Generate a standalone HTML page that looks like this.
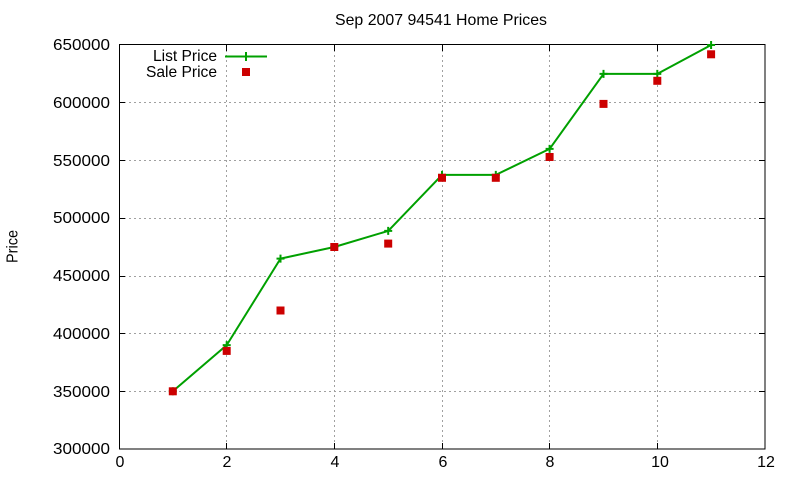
<!DOCTYPE html>
<html>
<head>
<meta charset="utf-8">
<style>
html,body{margin:0;padding:0;background:#fff;}
svg{display:block;}
text{font-family:"Liberation Sans",Arial,sans-serif;fill:#000;}
</style>
</head>
<body>
<svg width="800" height="480" viewBox="0 0 800 480" xmlns="http://www.w3.org/2000/svg">
<rect width="800" height="480" fill="#fff"/>
<!-- grid -->
<g stroke="#a0a0a0" stroke-width="1" stroke-dasharray="2,3" fill="none">
  <line x1="119" y1="391.5" x2="765" y2="391.5"/>
  <line x1="119" y1="333.5" x2="765" y2="333.5"/>
  <line x1="119" y1="276.5" x2="765" y2="276.5"/>
  <line x1="119" y1="218.5" x2="765" y2="218.5"/>
  <line x1="119" y1="160.5" x2="765" y2="160.5"/>
  <line x1="119" y1="102.5" x2="765" y2="102.5"/>
  <line x1="226.5" y1="45" x2="226.5" y2="449"/>
  <line x1="334.5" y1="45" x2="334.5" y2="449"/>
  <line x1="442.5" y1="45" x2="442.5" y2="449"/>
  <line x1="549.5" y1="45" x2="549.5" y2="449"/>
  <line x1="657.5" y1="45" x2="657.5" y2="449"/>
</g>
<!-- ticks -->
<g stroke="#000" stroke-width="1">
  <line x1="119" y1="391.5" x2="125" y2="391.5"/><line x1="765" y1="391.5" x2="759" y2="391.5"/>
  <line x1="119" y1="333.5" x2="125" y2="333.5"/><line x1="765" y1="333.5" x2="759" y2="333.5"/>
  <line x1="119" y1="276.5" x2="125" y2="276.5"/><line x1="765" y1="276.5" x2="759" y2="276.5"/>
  <line x1="119" y1="218.5" x2="125" y2="218.5"/><line x1="765" y1="218.5" x2="759" y2="218.5"/>
  <line x1="119" y1="160.5" x2="125" y2="160.5"/><line x1="765" y1="160.5" x2="759" y2="160.5"/>
  <line x1="119" y1="102.5" x2="125" y2="102.5"/><line x1="765" y1="102.5" x2="759" y2="102.5"/>
  <line x1="226.5" y1="449" x2="226.5" y2="443"/><line x1="226.5" y1="45" x2="226.5" y2="51"/>
  <line x1="334.5" y1="449" x2="334.5" y2="443"/><line x1="334.5" y1="45" x2="334.5" y2="51"/>
  <line x1="442.5" y1="449" x2="442.5" y2="443"/><line x1="442.5" y1="45" x2="442.5" y2="51"/>
  <line x1="549.5" y1="449" x2="549.5" y2="443"/><line x1="549.5" y1="45" x2="549.5" y2="51"/>
  <line x1="657.5" y1="449" x2="657.5" y2="443"/><line x1="657.5" y1="45" x2="657.5" y2="51"/>
</g>
<!-- border -->
<rect x="119.5" y="44.5" width="645.5" height="404.5" fill="none" stroke="#000" stroke-width="1"/>
<!-- y labels -->
<g font-size="16" text-anchor="end">
  <text x="110" y="454" textLength="57" lengthAdjust="spacingAndGlyphs">300000</text>
  <text x="110" y="397" textLength="57" lengthAdjust="spacingAndGlyphs">350000</text>
  <text x="110" y="339" textLength="57" lengthAdjust="spacingAndGlyphs">400000</text>
  <text x="110" y="281" textLength="57" lengthAdjust="spacingAndGlyphs">450000</text>
  <text x="110" y="223" textLength="57" lengthAdjust="spacingAndGlyphs">500000</text>
  <text x="110" y="166" textLength="57" lengthAdjust="spacingAndGlyphs">550000</text>
  <text x="110" y="108" textLength="57" lengthAdjust="spacingAndGlyphs">600000</text>
  <text x="110" y="50" textLength="57" lengthAdjust="spacingAndGlyphs">650000</text>
</g>
<!-- x labels -->
<g font-size="16" text-anchor="middle">
  <text x="120" y="467">0</text>
  <text x="227" y="467">2</text>
  <text x="335" y="467">4</text>
  <text x="443" y="467">6</text>
  <text x="550" y="467">8</text>
  <text x="660" y="467">10</text>
  <text x="766" y="467">12</text>
</g>
<!-- title -->
<text x="441" y="25" font-size="16" text-anchor="middle" textLength="212" lengthAdjust="spacingAndGlyphs">Sep 2007 94541 Home Prices</text>
<!-- y axis label -->
<text transform="translate(17.5,246.5) rotate(-90)" font-size="16" text-anchor="middle" textLength="33" lengthAdjust="spacingAndGlyphs">Price</text>
<!-- legend -->
<g font-size="16" text-anchor="end">
  <text x="217" y="61" textLength="64" lengthAdjust="spacingAndGlyphs">List Price</text>
  <text x="217" y="77" textLength="71" lengthAdjust="spacingAndGlyphs">Sale Price</text>
</g>
<line x1="225" y1="56.5" x2="267" y2="56.5" stroke="#00a000" stroke-width="2"/>
<g stroke="#00a000" stroke-width="2">
  <line x1="246" y1="52" x2="246" y2="61"/>
</g>
<rect x="242" y="68" width="8" height="8" fill="#cc0000"/>
<!-- list price line -->
<polyline fill="none" stroke="#00a000" stroke-width="2" stroke-linejoin="round"
 points="172.8,391.3 226.7,345.1 280.5,258.6 334.3,247 388.2,230.9 442,174.9 495.8,174.9 549.6,148.9 603.5,73.9 657.3,73.9 711.1,45"/>
<!-- list price plus markers -->
<g stroke="#00a000" stroke-width="2">
  <path d="M168.8,391.3h8M172.8,387.3v8"/>
  <path d="M222.7,345.1h8M226.7,341.1v8"/>
  <path d="M276.5,258.6h8M280.5,254.6v8"/>
  <path d="M330.3,247h8M334.3,243v8"/>
  <path d="M384.2,230.9h8M388.2,226.9v8"/>
  <path d="M438,174.9h8M442,170.9v8"/>
  <path d="M491.8,174.9h8M495.8,170.9v8"/>
  <path d="M545.6,148.9h8M549.6,144.9v8"/>
  <path d="M599.5,73.9h8M603.5,69.9v8"/>
  <path d="M653.3,73.9h8M657.3,69.9v8"/>
  <path d="M707.1,45h8M711.1,41v8"/>
</g>
<!-- sale squares (drawn on top) -->
<g fill="#cc0000">
  <rect x="168.8" y="387.3" width="8" height="8"/>
  <rect x="222.7" y="346.9" width="8" height="8"/>
  <rect x="276.5" y="306.5" width="8" height="8"/>
  <rect x="330.3" y="243" width="8" height="8"/>
  <rect x="384.2" y="239.6" width="8" height="8"/>
  <rect x="438" y="173.8" width="8" height="8"/>
  <rect x="491.8" y="173.8" width="8" height="8"/>
  <rect x="545.6" y="153" width="8" height="8"/>
  <rect x="599.5" y="99.9" width="8" height="8"/>
  <rect x="653.3" y="76.8" width="8" height="8"/>
  <rect x="707.1" y="50.3" width="8" height="8"/>
</g>
</svg>
</body>
</html>
